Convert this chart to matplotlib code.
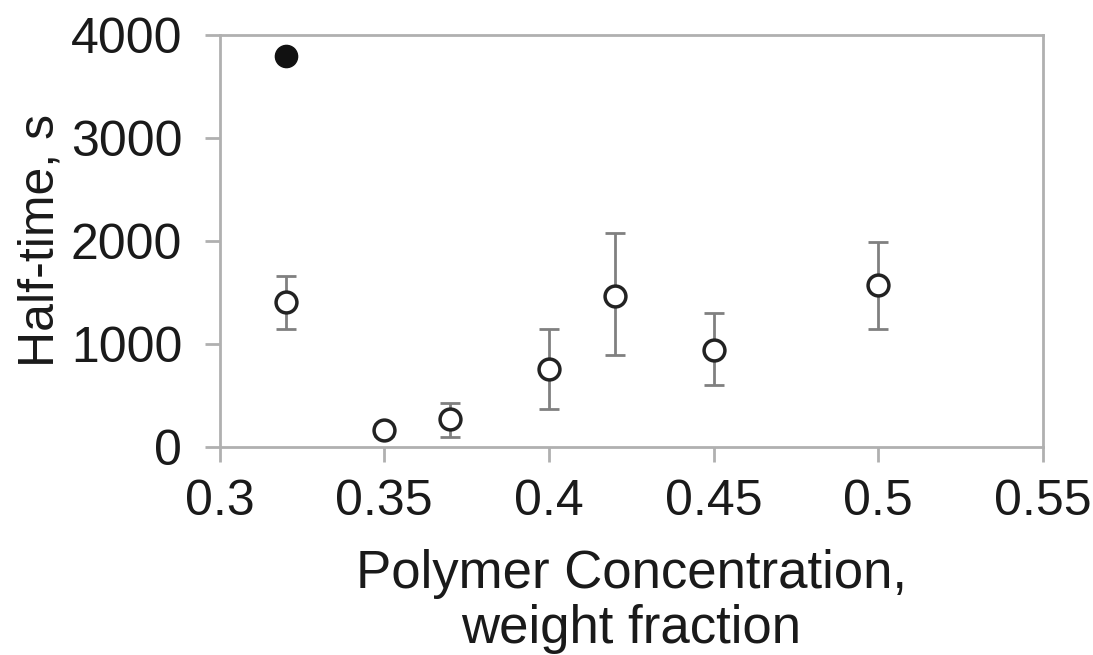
import matplotlib.pyplot as plt

plt.rcParams['font.family'] = ['Liberation Sans', 'DejaVu Sans']

# open circles: mean half-time with error bars
conc = [0.32, 0.35, 0.37, 0.40, 0.42, 0.45, 0.50]
half_time = [1410, 165, 270, 760, 1470, 940, 1570]
err_low = [1150, 110, 100, 370, 890, 600, 1150]
err_high = [1660, 220, 430, 1150, 2080, 1300, 1990]

# filled point
conc_filled = [0.32]
half_time_filled = [3800]

yerr = [[m - lo for m, lo in zip(half_time, err_low)],
        [hi - m for m, hi in zip(half_time, err_high)]]

fig = plt.figure(figsize=(10.93, 6.55), dpi=100)
ax = fig.add_axes([0.201, 0.3176, 0.753, 0.629])

ax.errorbar(conc, half_time, yerr=yerr, fmt='none', ecolor='#808080',
            elinewidth=2, capsize=7, capthick=2, zorder=2)
ax.plot(conc, half_time, 'o', ms=15, mfc='white', mec='#222222', mew=2.5, zorder=3)
ax.plot(conc_filled, half_time_filled, 'o', ms=16, mfc='#111111', mec='#111111', zorder=3)

ax.set_xlim(0.3, 0.55)
ax.set_ylim(0, 4000)
ax.set_xticks([0.3, 0.35, 0.4, 0.45, 0.5, 0.55])
ax.set_xticklabels(['0.3', '0.35', '0.4', '0.45', '0.5', '0.55'])
ax.set_yticks([0, 1000, 2000, 3000, 4000])

for s in ax.spines.values():
    s.set_color('#b0b0b0')
    s.set_linewidth(2)
ax.tick_params(axis='both', direction='out', length=11, width=2, color='#b0b0b0',
               labelsize=36, labelcolor='#1a1a1a')
ax.tick_params(axis='y', pad=16)
ax.tick_params(axis='x', pad=12)

ax.set_ylabel('Half-time, s', fontsize=36, labelpad=5, color='#1a1a1a')
ax.set_xlabel('Polymer Concentration,\nweight fraction', fontsize=38, labelpad=17,
              linespacing=1.15, color='#1a1a1a')

fig.savefig('out.png', dpi=100)
